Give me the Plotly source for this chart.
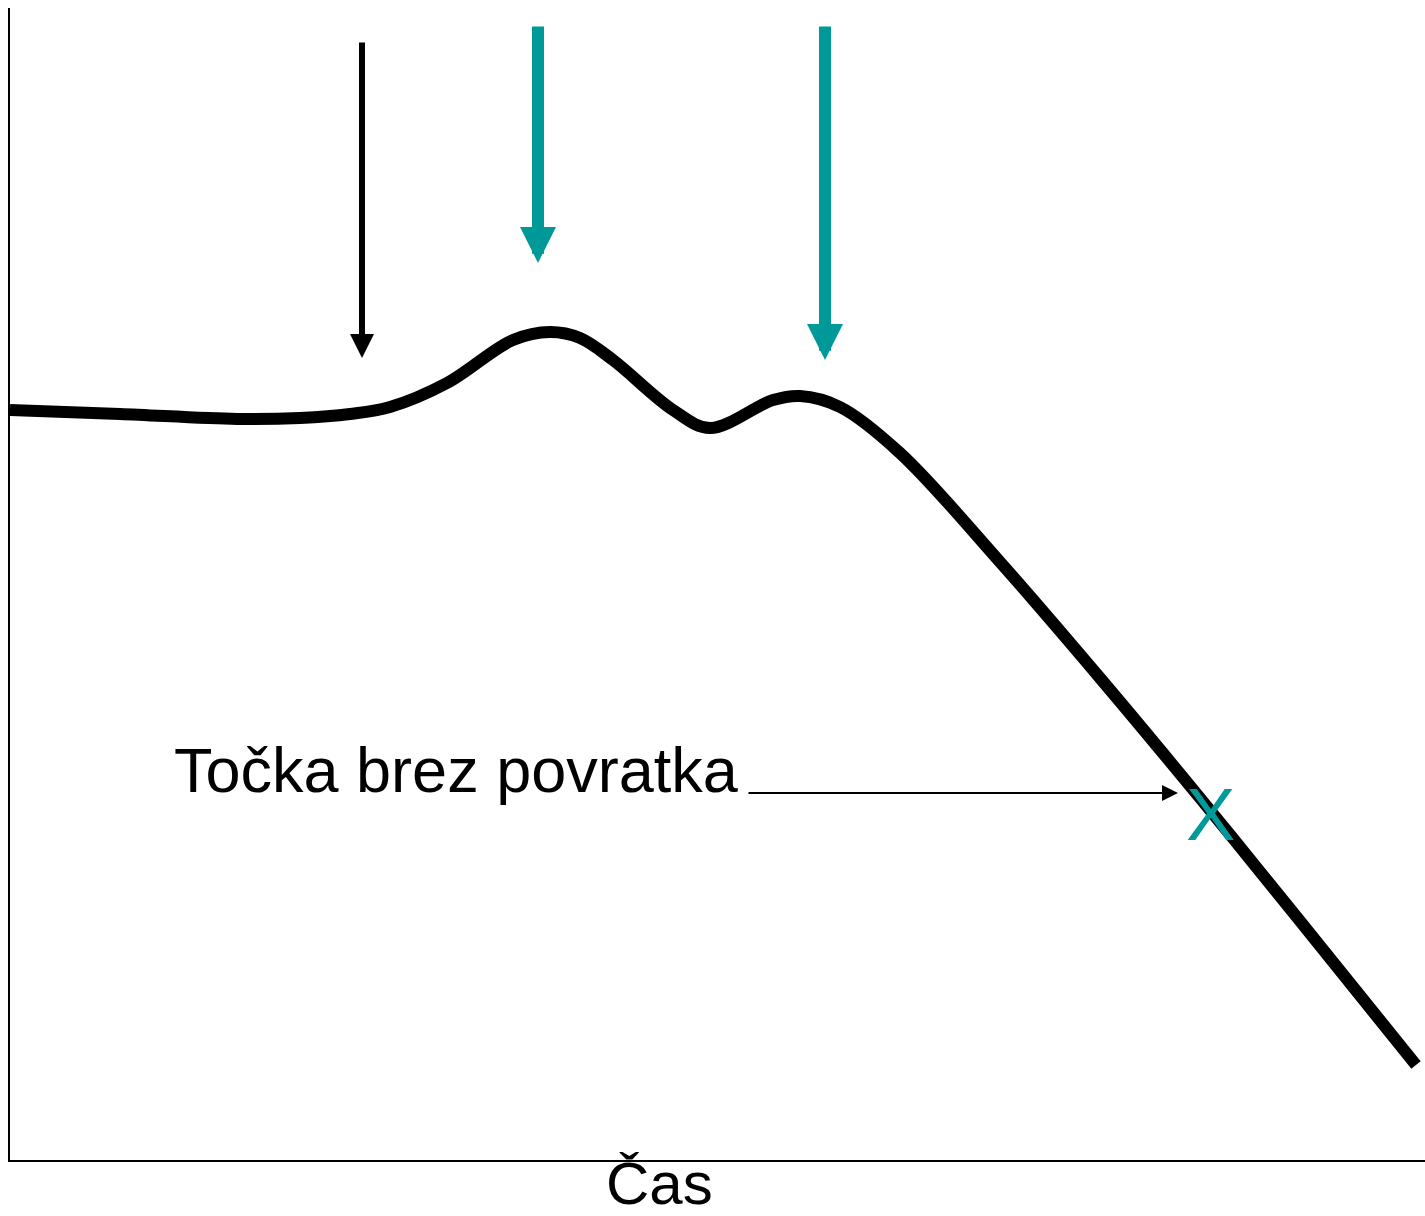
import plotly.graph_objects as go

# Curve: time vs level
time = [0, 110, 227, 290, 340, 380, 437, 503, 540, 570, 603, 663, 700, 763, 790, 830,
        890, 990, 1090, 1190, 1290, 1406]
level = [750, 746, 741, 742, 746, 753, 777, 820, 828, 822, 800, 750, 732, 760, 764, 753,
         707, 598, 482, 362, 239, 95]

# Event arrows (time position, tip level, tail level)
event_time = [352, 528, 815]
event_tip = [802, 897, 800]
event_tail = [1119, 1135, 1135]
event_color = ["#000000", "#009999", "#009999"]
event_width = [6, 12, 12]
event_size = [0.8, 0.6, 0.6]

# Point of no return
pnr_label = "Točka brez povratka"
pnr_text_time = 446
pnr_level = 367
pnr_arrow_start = 737
pnr_arrow_end = 1168
pnr_mark_time = 1200
pnr_mark_level = 346

x_label = "Čas"
x_label_time = 649

TEAL = "#009999"
FONT = "Liberation Sans, Arial, sans-serif"

fig = go.Figure()
fig.add_trace(go.Scatter(
    x=time, y=level, mode="lines",
    line=dict(color="black", width=12, shape="spline", smoothing=1.0, simplify=False),
    hoverinfo="skip", showlegend=False,
))

annotations = []
for t, tip, tail, c, w, s in zip(event_time, event_tip, event_tail, event_color, event_width, event_size):
    annotations.append(dict(
        x=t, y=tip, ax=t, ay=tail, xref="x", yref="y", axref="x", ayref="y",
        text="", showarrow=True, arrowhead=2, arrowwidth=w, arrowsize=s,
        arrowcolor=c, standoff=0, startstandoff=0,
    ))

annotations.append(dict(
    x=pnr_arrow_end, y=pnr_level, ax=pnr_arrow_start, ay=pnr_level,
    xref="x", yref="y", axref="x", ayref="y", text="", showarrow=True,
    arrowhead=2, arrowwidth=2, arrowsize=1.6, arrowcolor="black", standoff=0,
))
annotations.append(dict(
    x=pnr_text_time, y=pnr_level, xref="x", yref="y", text=pnr_label,
    showarrow=False, xanchor="center", yanchor="middle",
    font=dict(family=FONT, size=63, color="black"), yshift=23,
))
annotations.append(dict(
    x=pnr_mark_time, y=pnr_mark_level, xref="x", yref="y", text="X",
    showarrow=False, xanchor="center", yanchor="middle",
    font=dict(family=FONT, size=74, color=TEAL),
))
annotations.append(dict(
    x=x_label_time, y=0, xref="x", yref="paper", text=x_label,
    showarrow=False, xanchor="center", yanchor="middle", yshift=-23,
    font=dict(family=FONT, size=60, color="black"),
))

fig.update_layout(
    width=1425, height=1216,
    margin=dict(l=10, r=0, t=8, b=56),
    paper_bgcolor="white", plot_bgcolor="white",
    xaxis=dict(range=[0, 1415], showline=True, linecolor="black", linewidth=2,
               showgrid=False, zeroline=False, showticklabels=False, ticks=""),
    yaxis=dict(range=[0, 1152], showline=True, linecolor="black", linewidth=2,
               showgrid=False, zeroline=False, showticklabels=False, ticks=""),
    annotations=annotations,
    showlegend=False,
)

fig.write_html(
    "out.html",
    config={"displayModeBar": False},
    post_script="document.body.style.margin='0';document.body.style.overflow='hidden';",
)
